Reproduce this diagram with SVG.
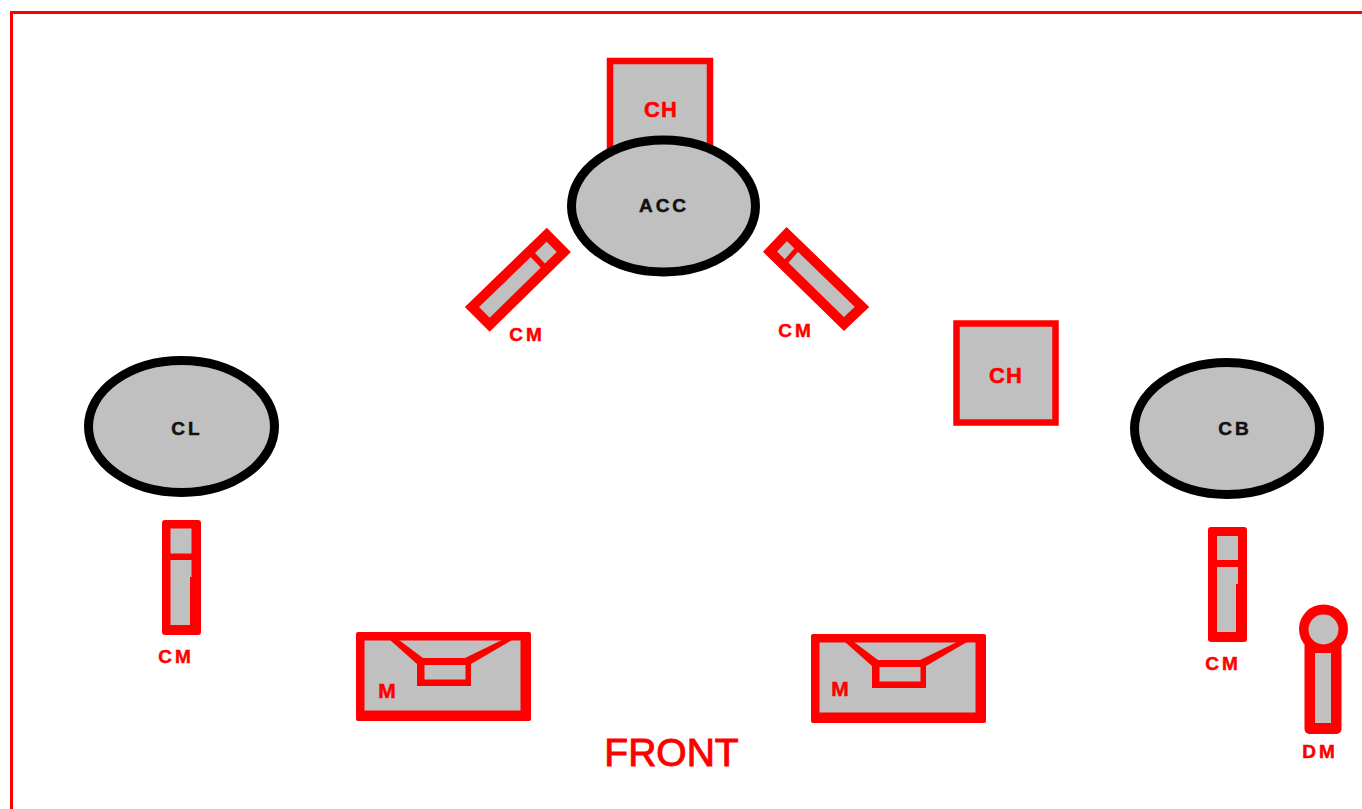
<svg xmlns="http://www.w3.org/2000/svg" width="1362" height="809" viewBox="0 0 1362 809">
<style>
text{font-family:"Liberation Sans",Arial,sans-serif;font-weight:bold;text-anchor:middle}
.r{fill:#f00;stroke:#f00;stroke-width:.5}
.k{fill:#111;stroke:#111;stroke-width:.5}
.l{font-size:19px;letter-spacing:3px}
.ch{font-size:22px;letter-spacing:1px}
.m{font-size:21px}
.g{fill:#c0c0c0}
.red{fill:#f00}
.box{fill:#c0c0c0;stroke:#f00;stroke-width:6.500}
.slant{fill:#c0c0c0;stroke:#f00;stroke-width:10;stroke-linejoin:miter}
.ell{fill:#c0c0c0;stroke:#000;stroke-width:9}
.div{stroke:#f00;fill:none}
</style>
<rect width="1362" height="809" fill="#fff"/>
<path d="M11.500 809V12.500H1362" fill="none" stroke="#f00" stroke-width="3"/>
<g id="ch-top"><rect class="box" x="610" y="61" width="100" height="105"/><text class="r ch" x="661" y="117">CH</text></g>
<g id="acc"><ellipse class="ell" cx="663.500" cy="206" rx="92" ry="66"/><text class="k l" x="664" y="212">ACC</text></g>
<g id="cm-a"><path class="slant" d="M546.700 234.700L563.800 252L489.700 324.700L472 307Z"/><path class="div" stroke-width="6" d="M530 252L546 269"/><text class="r l" x="527" y="341">CM</text></g>
<g id="cm-b"><path class="slant" d="M786.700 234L862 307L844 324L770 251.700Z"/><path class="div" stroke-width="5" d="M798 248L784 264"/><text class="r l" x="796" y="337">CM</text></g>
<g id="ch-right"><rect class="box" x="956.500" y="323.500" width="99" height="99"/><text class="r ch" x="1006" y="383">CH</text></g>
<g id="cl"><ellipse class="ell" cx="181.500" cy="426.500" rx="93" ry="66"/><text class="k l" x="187" y="435">CL</text></g>
<g id="cb"><ellipse class="ell" cx="1227" cy="428.500" rx="92.500" ry="66"/><text class="k l" x="1235" y="435">CB</text></g>
<g id="cm-l"><rect class="red" x="162" y="520" width="39" height="115" rx="3"/><path class="g" d="M170.500 528.500H191.500V553.500H170.500ZM170.500 560H191.500V577H190V625H170.500Z"/><text class="r l" x="176" y="663">CM</text></g>
<g id="cm-r"><rect class="red" x="1208" y="527" width="39" height="115" rx="3"/><path class="g" d="M1217 536H1238V560H1217ZM1217 567H1238V584H1236V632H1217Z"/><text class="r l" x="1223" y="670">CM</text></g>
<g id="dm"><rect class="red" x="1304.500" y="640" width="37" height="94" rx="5"/><circle class="red" cx="1323.500" cy="629" r="24.500"/><circle class="g" cx="1323.500" cy="629.500" r="15"/><rect class="g" x="1315" y="653" width="16" height="70"/><text class="r l" x="1320" y="758">DM</text></g>
<g id="m-l"><rect class="red" x="356" y="632" width="175" height="89" rx="2"/><rect class="g" x="364.500" y="640.500" width="156" height="70"/><path class="red" d="M390 640H399L423 658H465L502 640H512L471 664V686H417V664Z"/><rect class="g" x="424.500" y="665" width="41" height="14.500"/><text class="r m" x="387" y="698">M</text></g>
<g id="m-r"><rect class="red" x="811" y="634" width="175" height="89" rx="2"/><rect class="g" x="819.500" y="642.500" width="156" height="70"/><path class="red" d="M845 642H854L878 660H920L957 642H967L926 666V688H872V666Z"/><rect class="g" x="879.500" y="667" width="41" height="14.500"/><text class="r m" x="840" y="696">M</text></g>
<text id="front" class="r" x="671.500" y="766" font-size="39" style="font-weight:normal;stroke-width:1">FRONT</text>
</svg>
